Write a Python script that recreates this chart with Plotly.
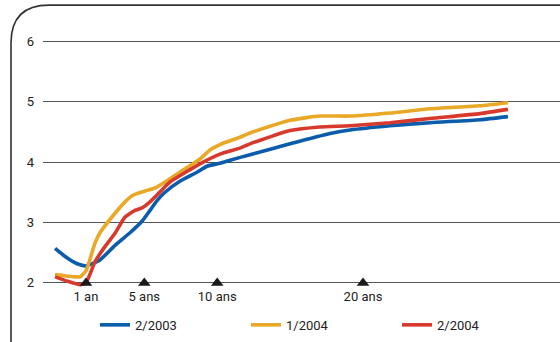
import plotly.graph_objects as go

# Maturity axis (years) and yields (%) for each curve
mat_2003 = [-1.12, -0.5, 0.2, 0.6, 1.0, 1.35, 1.96, 2.99, 4.02, 4.84, 5.39, 5.9, 6.42, 7.44, 8.61, 9.30,
            10.19, 10.88, 12.25, 14.99, 17.74, 19.11, 21.85, 24.59, 28.02, 29.94]
yld_2003 = [2.57, 2.45, 2.34, 2.30, 2.28, 2.31, 2.38, 2.62, 2.83, 3.02, 3.20, 3.37, 3.50, 3.68, 3.83, 3.93,
            3.98, 4.03, 4.12, 4.30, 4.47, 4.53, 4.60, 4.65, 4.70, 4.75]

mat_2004a = [-1.12, -0.5, 0.2, 0.59, 1.0, 1.62, 1.96, 2.78, 3.68, 4.22, 5.05, 5.73, 6.42, 7.44, 8.82,
             9.51, 10.40, 11.56, 12.25, 14.99, 17.05, 19.11, 21.85, 24.59, 28.02, 29.94]
yld_2004a = [2.14, 2.12, 2.10, 2.10, 2.20, 2.66, 2.83, 3.09, 3.34, 3.45, 3.52, 3.57, 3.67, 3.83, 4.05,
             4.20, 4.31, 4.41, 4.48, 4.69, 4.76, 4.76, 4.81, 4.88, 4.93, 4.98]

mat_2004b = [-1.12, -0.3, 0.59, 1.0, 1.62, 2.30, 2.99, 3.68, 4.36, 4.84, 5.39, 6.42, 6.76, 8.82,
             10.19, 11.56, 12.25, 14.99, 17.05, 19.11, 21.85, 24.59, 28.02, 29.94]
yld_2004b = [2.10, 2.03, 1.97, 2.00, 2.35, 2.60, 2.82, 3.09, 3.20, 3.24, 3.34, 3.59, 3.67, 3.97,
             4.13, 4.23, 4.30, 4.52, 4.58, 4.60, 4.65, 4.72, 4.80, 4.87]

# Marked maturities on the horizontal axis
mark_years = [1, 5, 10, 20]
mark_labels = ["1 an", "5 ans", "10 ans", "20 ans"]

y_ticks = [2, 3, 4, 5, 6]

FONT = "Roboto, Liberation Sans, sans-serif"

W, H = 560, 342
ML, MR, MT, MB = 43, 0, 28.9, 46.9
PW, PH = W - ML - MR, H - MT - MB

fig = go.Figure()

series = [
    ("2/2003", mat_2003, yld_2003, "#0b5cab"),
    ("1/2004", mat_2004a, yld_2004a, "#e9a825"),
    ("2/2004", mat_2004b, yld_2004b, "#d8392d"),
]
for name, x, y, color in series:
    fig.add_trace(go.Scatter(
        x=x, y=y, name=name, mode="lines",
        line=dict(color=color, width=3.6, shape="spline", smoothing=0.5),
        hoverinfo="skip",
    ))

fig.add_trace(go.Scatter(
    x=mark_years, y=[2] * len(mark_years), mode="markers+text",
    marker=dict(symbol="triangle-up", size=11, color="#1a1a1a"),
    text=mark_labels, textposition="bottom center",
    textfont=dict(family=FONT, size=13, color="#222"),
    showlegend=False, cliponaxis=False, hoverinfo="skip",
))


def px_x(p):
    return (p - ML) / PW


def px_y(p):
    return (H - MB - p) / PH


# Frame with a rounded top-left corner
r = 38
path = (f"M {px_x(11)},{px_y(H + 2)} L {px_x(11)},{px_y(5 + r)} "
        f"Q {px_x(11)},{px_y(5)} {px_x(11 + r)},{px_y(5)} L {px_x(W + 2)},{px_y(5)}")
fig.add_shape(type="path", path=path, xref="paper", yref="paper",
              line=dict(color="#333", width=1.6))

fig.update_layout(
    width=W, height=H,
    margin=dict(l=ML, r=MR, t=MT, b=MB),
    paper_bgcolor="white", plot_bgcolor="white",
    font=dict(family=FONT, size=13, color="#222"),
    xaxis=dict(range=[-1.948, 33.51], showgrid=False, zeroline=False,
               showticklabels=False, ticks=""),
    yaxis=dict(range=[1.8, 6.2], tickvals=y_ticks, showgrid=True,
               gridcolor="#555", gridwidth=1.2, zeroline=False, ticks="",
               ticklabelstandoff=8, tickfont=dict(size=13)),
    legend=dict(orientation="h", x=px_x(95), xanchor="left",
                y=px_y(325), yanchor="middle",
                entrywidth=106, entrywidthmode="pixels",
                font=dict(size=13), bgcolor="rgba(0,0,0,0)"),
    showlegend=True,
)

fig.write_html("out.html")
